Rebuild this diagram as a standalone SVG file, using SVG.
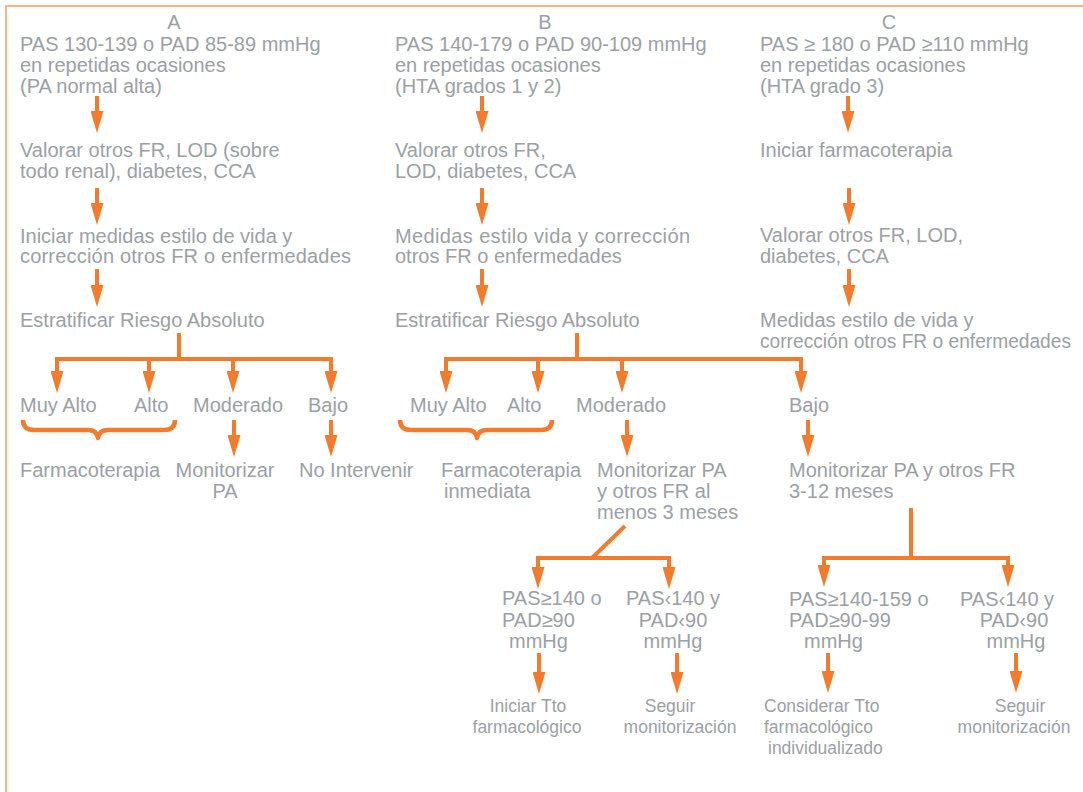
<svg xmlns="http://www.w3.org/2000/svg" width="1083" height="792" viewBox="0 0 1083 792">
<defs>
<style>
text{font-family:"Liberation Sans",Arial,sans-serif;font-size:20px;fill:#9ba0a5}
.s{font-size:17.5px}
.m{text-anchor:middle}
.c{fill:none;stroke:#f27b2e;stroke-width:4}
.b{fill:none;stroke:#f27b2e;stroke-width:4.5;stroke-linejoin:round}
</style>
<marker id="ah" markerUnits="userSpaceOnUse" markerWidth="22" markerHeight="13" refX="1" refY="6.5" orient="auto">
<path d="M0,0 L22,6.5 L0,13 z" fill="#f27b2e"/>
</marker>
</defs>
<rect x="6" y="6" width="1100" height="800" fill="#fff" stroke="#f6a16b" stroke-width="1.6"/>

<g id="connectors">
<path class="c" marker-end="url(#ah)" d="M97,96 V112"/>
<path class="c" marker-end="url(#ah)" d="M97,188 V204"/>
<path class="c" marker-end="url(#ah)" d="M97,269 V286"/>
<path class="c" marker-end="url(#ah)" d="M179,333 V359 H57 V372"/>
<path class="c" marker-end="url(#ah)" d="M179,359 H149 V372"/>
<path class="c" marker-end="url(#ah)" d="M179,359 H233 V372"/>
<path class="c" marker-end="url(#ah)" d="M179,359 H331 V372"/>
<path class="c" marker-end="url(#ah)" d="M234,420 V436"/>
<path class="c" marker-end="url(#ah)" d="M331,420 V436"/>

<path class="c" marker-end="url(#ah)" d="M482,96 V112"/>
<path class="c" marker-end="url(#ah)" d="M482,188 V204"/>
<path class="c" marker-end="url(#ah)" d="M482,269 V286"/>
<path class="c" marker-end="url(#ah)" d="M577,333 V359 H446 V372"/>
<path class="c" marker-end="url(#ah)" d="M577,359 H538 V372"/>
<path class="c" marker-end="url(#ah)" d="M577,359 H622 V372"/>
<path class="c" marker-end="url(#ah)" d="M577,359 H801 V372"/>
<path class="c" marker-end="url(#ah)" d="M627,420 V436"/>
<path class="c" marker-end="url(#ah)" d="M808,420 V436"/>

<path class="c" marker-end="url(#ah)" d="M625,526 L592,558 H538 V568"/>
<path class="c" marker-end="url(#ah)" d="M592,558 H669 V568"/>
<path class="c" marker-end="url(#ah)" d="M539,653 V673"/>
<path class="c" marker-end="url(#ah)" d="M677,653 V673"/>

<path class="c" marker-end="url(#ah)" d="M911,508 V558 H824 V566"/>
<path class="c" marker-end="url(#ah)" d="M911,558 H1008 V566"/>
<path class="c" marker-end="url(#ah)" d="M828,653 V672"/>
<path class="c" marker-end="url(#ah)" d="M1016,653 V672"/>

<path class="c" marker-end="url(#ah)" d="M848,96 V112"/>
<path class="c" marker-end="url(#ah)" d="M849,188 V204"/>
<path class="c" marker-end="url(#ah)" d="M849,269 V286"/>

<path class="b" d="M23,420 Q23,430 34,430 L88,430 Q97,430 98,438 Q99,430 108,430 L164,430 Q175,430 175,420"/>
<path class="b" d="M400,420 Q400,430 411,430 L467,430 Q476,430 477,438 Q478,430 487,430 L541,430 Q552,430 552,420"/>
</g>

<g id="colA">
<text class="m" x="174" y="29">A</text>
<g id="a1"><text x="20" y="51">PAS 130-139 o PAD 85-89 mmHg</text><text x="20" y="72">en repetidas ocasiones</text><text x="20" y="93">(PA normal alta)</text></g>
<g id="a2"><text x="20" y="157">Valorar otros FR, LOD (sobre</text><text x="20" y="178">todo renal), diabetes, CCA</text></g>
<g id="a3"><text x="20" y="243">Iniciar medidas estilo de vida y</text><text x="20" y="263" textLength="331" lengthAdjust="spacing">corrección otros FR o enfermedades</text></g>
<g id="a4"><text x="20" y="327">Estratificar Riesgo Absoluto</text></g>
<g id="a5"><text x="20" y="412">Muy Alto</text></g>
<g id="a6"><text x="134" y="412">Alto</text></g>
<g id="a7"><text x="193" y="412">Moderado</text></g>
<g id="a8"><text x="308" y="412">Bajo</text></g>
<g id="a9"><text x="20" y="477">Farmacoterapia</text></g>
<g id="a10"><text class="m" x="225" y="477">Monitorizar</text><text class="m" x="225" y="498">PA</text></g>
<g id="a11"><text x="299" y="477">No Intervenir</text></g>
</g>

<g id="colB">
<text class="m" x="545" y="29">B</text>
<g id="b1"><text x="395" y="51">PAS 140-179 o PAD 90-109 mmHg</text><text x="395" y="72">en repetidas ocasiones</text><text x="395" y="93">(HTA grados 1 y 2)</text></g>
<g id="b2"><text x="395" y="157">Valorar otros FR,</text><text x="395" y="178">LOD, diabetes, CCA</text></g>
<g id="b3"><text x="395" y="243" textLength="295" lengthAdjust="spacing">Medidas estilo vida y corrección</text><text x="395" y="263">otros FR o enfermedades</text></g>
<g id="b4"><text x="395" y="327">Estratificar Riesgo Absoluto</text></g>
<g id="b5"><text x="410" y="412">Muy Alto</text></g>
<g id="b6"><text x="507" y="412">Alto</text></g>
<g id="b7"><text x="576" y="412">Moderado</text></g>
<g id="b8"><text x="789" y="412">Bajo</text></g>
<g id="b9"><text x="441" y="477">Farmacoterapia</text><text x="444" y="498">inmediata</text></g>
<g id="b10"><text x="597" y="477">Monitorizar PA</text><text x="597" y="498">y otros FR al</text><text x="597" y="519">menos 3 meses</text></g>
<g id="b11"><text x="789" y="477">Monitorizar PA y otros FR</text><text x="789" y="498">3-12 meses</text></g>
<g id="b12"><text x="502" y="605">PAS≥140 o</text><text x="502" y="627">PAD≥90</text><text x="509" y="648">mmHg</text></g>
<g id="b13"><text class="m" x="673" y="605">PAS‹140 y</text><text class="m" x="673" y="627">PAD‹90</text><text class="m" x="673" y="648">mmHg</text></g>
<g id="b14"><text class="s m" x="528" y="712">Iniciar Tto</text><text class="s m" x="527" y="733">farmacológico</text></g>
<g id="b15"><text class="s m" x="670" y="712">Seguir</text><text class="s m" x="680" y="733">monitorización</text></g>
<g id="b16"><text x="789" y="606">PAS≥140-159 o</text><text x="789" y="627">PAD≥90-99</text><text x="804" y="648">mmHg</text></g>
<g id="b17"><text class="m" x="1007" y="606">PAS‹140 y</text><text class="m" x="1014" y="627">PAD‹90</text><text class="m" x="1016" y="648">mmHg</text></g>
<g id="b18"><text class="s" x="764" y="712">Considerar Tto</text><text class="s" x="764" y="733">farmacológico</text><text class="s" x="768" y="754">individualizado</text></g>
<g id="b19"><text class="s m" x="1020" y="712">Seguir</text><text class="s m" x="1014" y="733">monitorización</text></g>
</g>

<g id="colC">
<text class="m" x="889" y="29">C</text>
<g id="c1"><text x="760" y="51">PAS ≥ 180 o PAD ≥110 mmHg</text><text x="760" y="72">en repetidas ocasiones</text><text x="760" y="93">(HTA grado 3)</text></g>
<g id="c2"><text x="760" y="157">Iniciar farmacoterapia</text></g>
<g id="c3"><text x="760" y="242">Valorar otros FR, LOD,</text><text x="760" y="263">diabetes, CCA</text></g>
<g id="c4"><text x="760" y="327">Medidas estilo de vida y</text><text x="760" y="348" textLength="311" lengthAdjust="spacingAndGlyphs">corrección otros FR o enfermedades</text></g>
</g>
</svg>
